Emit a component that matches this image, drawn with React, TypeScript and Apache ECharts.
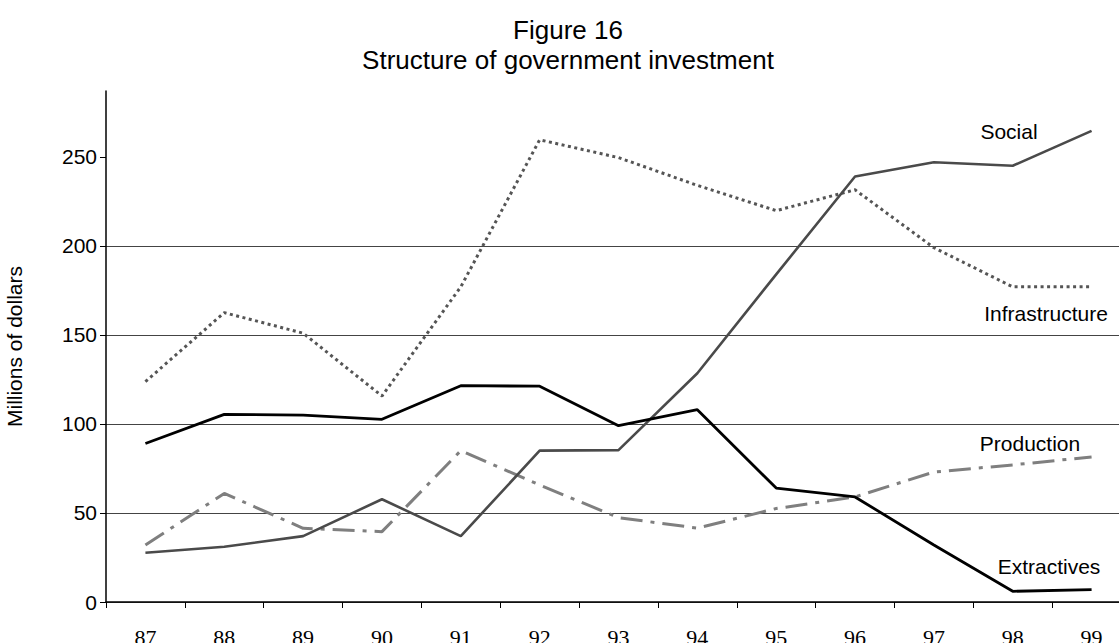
import React, { useEffect, useRef } from "react";
import * as echarts from "echarts";

const years = ["87", "88", "89", "90", "91", "92", "93", "94", "95", "96", "97", "98", "99"];
const yTicks = [0, 50, 100, 150, 200, 250];
const extractives = [89, 105.4, 105, 102.6, 121.5, 121.2, 99, 108, 64, 59, 32, 6, 7];
const social = [27.7, 31, 37, 57.7, 37, 85, 85.3, 128.5, 184, 239, 247, 245, 264.6];
const infrastructure = [123.8, 162.5, 151, 115.7, 177, 259.6, 249.6, 234, 219.8, 231.5, 199, 177, 177];
const production = [32, 61, 41.4, 39.5, 85, 65.7, 47.4, 41.5, 52.5, 59, 73, 77, 81.5];

const SANS = "Liberation Sans, Arial, sans-serif";
const SERIF = "Liberation Serif, Times New Roman, serif";

export default function App() {
  const ref = useRef<HTMLDivElement>(null);
  useEffect(() => {
    if (!ref.current) return;
    const chart = echarts.init(ref.current, undefined, { renderer: "svg" });
    const lineLabel = (text: string, x: number, y: number) => ({
      type: "text",
      x,
      y,
      style: {
        text,
        x: 0,
        y: 0,
        align: "center",
        verticalAlign: "middle",
        font: `21px ${SANS}`,
        fill: "#000",
      },
    });
    chart.setOption({
      animation: false,
      backgroundColor: "#fff",
      title: {
        text: "Figure 16\nStructure of government investment",
        left: 563,
        textAlign: "center",
        top: 10,
        padding: [5, 5, 5, 5],
        textStyle: {
          fontFamily: SANS,
          fontSize: 26,
          fontWeight: "normal",
          color: "#000",
          lineHeight: 30,
        },
      },
      grid: {
        left: 106,
        top: 91,
        width: 1025,
        height: 511,
        containLabel: false,
        outerBoundsMode: "none",
      },
      xAxis: {
        type: "category",
        data: years,
        boundaryGap: true,
        axisLine: { lineStyle: { color: "#000", width: 1.5 } },
        axisTick: { show: true, length: 6, lineStyle: { color: "#000", width: 1 } },
        axisLabel: {
          fontFamily: SERIF,
          fontSize: 22,
          color: "#000",
          margin: 24,
          interval: 0,
        },
        splitLine: { show: false },
      },
      yAxis: {
        type: "value",
        min: 0,
        max: 287,
        interval: 50,
        name: "Millions of dollars",
        nameLocation: "middle",
        nameGap: 81,
        nameRotate: 90,
        nameTextStyle: { fontFamily: SANS, fontSize: 21, color: "#000" },
        axisLine: { show: true, lineStyle: { color: "#000", width: 1.5 } },
        axisTick: {
          show: true,
          length: 6,
          customValues: yTicks,
          lineStyle: { color: "#000", width: 1 },
        },
        axisLabel: {
          fontFamily: SANS,
          fontSize: 21,
          color: "#000",
          margin: 9,
          customValues: yTicks,
          formatter: (v: number) => (v % 50 === 0 ? String(v) : ""),
        },
        splitLine: { show: true, showMaxLine: false, lineStyle: { color: "#444", width: 1 } },
      },
      series: [
        {
          name: "Infrastructure",
          type: "line",
          data: infrastructure,
          symbol: "none",
          lineStyle: { color: "#555", width: 3, type: [3, 3.5] },
          z: 3,
        },
        {
          name: "Production",
          type: "line",
          data: production,
          symbol: "none",
          lineStyle: { color: "#7f7f7f", width: 3, type: [22, 8, 4, 8] },
          z: 3,
        },
        {
          name: "Social",
          type: "line",
          data: social,
          symbol: "none",
          lineStyle: { color: "#4a4a4a", width: 2.6 },
          z: 4,
        },
        {
          name: "Extractives",
          type: "line",
          data: extractives,
          symbol: "none",
          lineStyle: { color: "#000", width: 2.8 },
          z: 5,
        },
      ],
      graphic: [
        lineLabel("Social", 1009, 131),
        lineLabel("Infrastructure", 1046, 313),
        lineLabel("Production", 1030, 443),
        lineLabel("Extractives", 1049, 566),
      ],
    });
    return () => chart.dispose();
  }, []);
  return (
    <div
      ref={ref}
      style={{ position: "fixed", left: 0, top: 0, width: 1119, height: 643, background: "#fff" }}
    />
  );
}
